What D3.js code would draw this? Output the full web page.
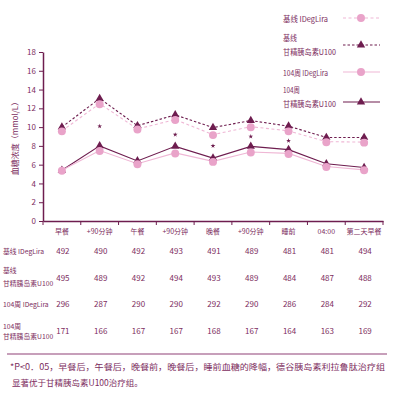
<!DOCTYPE html>
<html>
<head>
<meta charset="utf-8">
<script src="https://cdn.jsdelivr.net/npm/d3@7"></script>
<style>
  body { margin: 0; background: #fff; }
  text { font-family: "Noto Sans CJK SC", "Noto Sans", sans-serif; fill: #7d2d60; }
</style>
</head>
<body>
<div id="chart"></div>
<script>
const categories = ["早餐", "+90分钟", "午餐", "+90分钟", "晚餐", "+90分钟", "睡前", "04:00", "第二天早餐"]

const baseDegLira = [9.6, 12.5, 9.8, 10.8, 9.2, 10.05, 9.6, 8.45, 8.4]
const baseGlar = [10.0, 13.05, 10.15, 11.3, 9.95, 10.7, 10.1, 8.9, 8.9]
const wk104DegLira = [5.4, 7.5, 6.1, 7.25, 6.35, 7.35, 7.2, 5.8, 5.45]
const wk104Glar = [5.4, 8.0, 6.4, 7.95, 6.7, 7.95, 7.6, 6.1, 5.7]

// significance markers (category index, value)
const starIdx = [1, 3, 4, 5, 6]
const starVal = [10.1, 9.2, 8.0, 9.0, 8.55]

const yTicks = [0, 2, 4, 6, 8, 10, 12, 14, 16, 18]

const tableRows = [
  ["基线 IDegLira"],
  ["基线", "甘精胰岛素U100"],
  ["104周 IDegLira"],
  ["104周", "甘精胰岛素U100"]
]
const nBaseDegLira = [492, 490, 492, 493, 491, 489, 481, 481, 494]
const nBaseGlar = [495, 489, 492, 494, 493, 489, 484, 487, 488]
const nWk104DegLira = [296, 287, 290, 290, 292, 290, 286, 284, 292]
const nWk104Glar = [171, 166, 167, 167, 168, 167, 164, 163, 169]

const footnote = [
  "*P<0．05，早餐后，午餐后，晚餐前，晚餐后，睡前血糖的降幅，德谷胰岛素利拉鲁肽治疗组",
  "显著优于甘精胰岛素U100治疗组。"
]

const dark = "#6e1d4f"
const pink = "#e9a3c9"
const pinkLine = "#efb7d5"

const fullWidth = 397, fullHeight = 404
const margin = { top: 52, left: 43, right: 14 }
const plotH = 169
const width = fullWidth - margin.left - margin.right

const svg = d3.select("#chart").append("svg")
  .attr("width", fullWidth).attr("height", fullHeight)

const g = svg.append("g").attr("transform", `translate(${margin.left},${margin.top})`)

const x = d3.scaleBand().domain(d3.range(categories.length)).range([0, width])
const y = d3.scaleLinear().domain([0, 18]).range([plotH, 0])
const cx = i => x(i) + x.bandwidth() / 2

// fit a label into the given width (condensed like the original lettering)
const fit = (sel, w) => sel.attr("textLength", w).attr("lengthAdjust", "spacingAndGlyphs")

// axes
const yAxis = d3.axisLeft(y).tickValues(yTicks).tickSize(4).tickSizeOuter(0)
const yG = g.append("g").call(yAxis)
yG.select(".domain").attr("stroke", dark).attr("stroke-width", 1.5)
yG.selectAll(".tick line").attr("stroke", dark)
yG.selectAll(".tick text").attr("font-size", 8).attr("fill", "#8a4a73").attr("x", -7)

const xAxis = d3.axisBottom(x).tickSize(0).tickSizeOuter(0).tickFormat(i => categories[i])
const xG = g.append("g").attr("transform", `translate(0,${plotH})`).call(xAxis)
xG.select(".domain").attr("stroke", dark).attr("stroke-width", 1.5)
xG.selectAll(".tick text").attr("font-size", 7).attr("dy", 10).attr("fill", "#7d2d60")
// boundary ticks
g.append("g").selectAll("line").data(d3.range(categories.length + 1)).join("line")
  .attr("x1", i => i * x.step()).attr("x2", i => i * x.step())
  .attr("y1", plotH).attr("y2", plotH + 4)
  .attr("stroke", dark).attr("stroke-width", 1)

svg.append("text")
  .attr("transform", `translate(18,${margin.top + y(9)}) rotate(-90)`)
  .attr("text-anchor", "middle").attr("font-size", 8)
  .text("血糖浓度（mmol/L）")

// series
const line = d3.line().x((d, i) => cx(i)).y(d => y(d))
const series = [
  { data: baseGlar, color: dark, dash: "2.5,2", sym: "tri" },
  { data: baseDegLira, color: pinkLine, dash: "3,2.5", sym: "circ" },
  { data: wk104Glar, color: dark, dash: null, sym: "tri" },
  { data: wk104DegLira, color: pinkLine, dash: null, sym: "circ" }
]
const triangle = d3.symbol().type(d3.symbolTriangle).size(30)
const circle = d3.symbol().type(d3.symbolCircle).size(50)

series.forEach(s => {
  g.append("path").datum(s.data)
    .attr("d", line).attr("fill", "none")
    .attr("stroke", s.color).attr("stroke-width", 1.1)
    .attr("stroke-dasharray", s.dash)
})
series.forEach(s => {
  const pts = g.append("g").selectAll("path").data(s.data).join("path")
  if (s.sym === "tri") {
    pts.attr("d", triangle).attr("fill", dark)
      .attr("transform", (d, i) => `translate(${cx(i)},${y(d)})`)
  } else {
    pts.attr("d", circle).attr("fill", pink)
      .attr("transform", (d, i) => `translate(${cx(i)},${y(d) + 0.5})`)
  }
})

g.append("g").selectAll("path").data(starIdx).join("path")
  .attr("d", d3.symbol().type(d3.symbolStar).size(7))
  .attr("fill", dark)
  .attr("transform", (d, k) => `translate(${cx(d)},${y(starVal[k])})`)

// legend
const legend = svg.append("g")
const legItems = [
  { lines: ["基线 IDegLira"], w: [45], ty: [19], ly: 18, s: series[1] },
  { lines: ["基线", "甘精胰岛素U100"], w: [14, 53], ty: [38, 52], ly: 45, s: series[0] },
  { lines: ["104周 IDegLira"], w: [45], ty: [73], ly: 72, s: series[3] },
  { lines: ["104周", "甘精胰岛素U100"], w: [17, 53], ty: [90, 104], ly: 102, s: series[2] }
]
legItems.forEach(it => {
  it.lines.forEach((t, k) => {
    legend.append("text").attr("x", 283).attr("y", it.ty[k] + 3)
      .attr("font-size", 8).attr("fill", "#7d2d60").text(t)
      .call(fit, it.w[k])
  })
  legend.append("line").attr("x1", 343).attr("x2", 380)
    .attr("y1", it.ly).attr("y2", it.ly)
    .attr("stroke", it.s.color).attr("stroke-width", 1.1)
    .attr("stroke-dasharray", it.s.dash)
  legend.append("path")
    .attr("d", it.s.sym === "tri" ? triangle : circle)
    .attr("fill", it.s.sym === "tri" ? dark : pink)
    .attr("transform", `translate(361,${it.ly})`)
})

// table
const tableVals = [nBaseDegLira, nBaseGlar, nWk104DegLira, nWk104Glar]
const labelY = [[254], [273, 286], [307], [329, 339]]
const valY = [254, 281, 307, 334]
tableRows.forEach((r, k) => {
  r.forEach((t, j) => {
    svg.append("text").attr("x", 3).attr("y", labelY[k][j])
      .attr("font-size", 6.8).attr("fill", "#7d2d60").text(t)
  })
  svg.append("g").selectAll("text").data(tableVals[k]).join("text")
    .attr("x", (d, i) => margin.left + cx(i) + 1)
    .attr("y", valY[k])
    .attr("text-anchor", "middle").attr("font-size", 8)
    .attr("fill", "#8a4a73")
    .text(d => d)
})

svg.append("line").attr("x1", 7).attr("x2", 387).attr("y1", 354).attr("y2", 354)
  .attr("stroke", "#b57fa3").attr("stroke-width", 1.3)

svg.append("text").attr("x", 10).attr("y", 370).attr("font-size", 8.5)
  .attr("fill", "#7d2d60").text(footnote[0])
  .call(fit, 375)
svg.append("text").attr("x", 12).attr("y", 386).attr("font-size", 8.5)
  .attr("fill", "#7d2d60").text(footnote[1])
</script>
</body>
</html>
